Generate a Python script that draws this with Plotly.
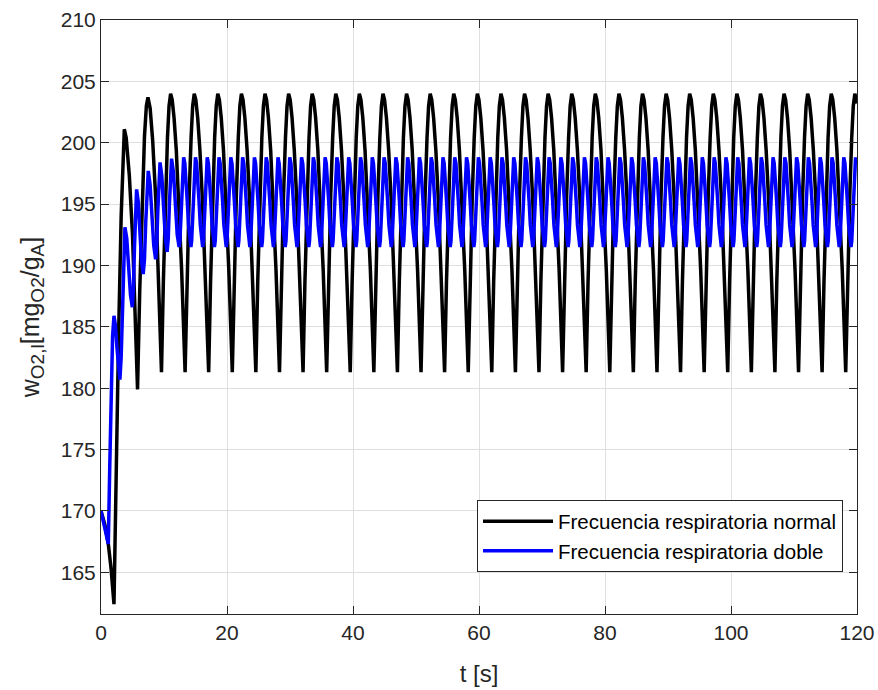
import plotly.graph_objects as go

# ---------------- data ----------------
# Normal breathing frequency (black): start-up transient
normal_start_t = [0.0, 0.6, 1.16, 1.6, 2.06, 2.4, 2.8, 3.2, 3.45, 3.7,
                  4.0, 4.5, 5.0, 5.4, 5.8, 6.15, 6.55, 6.9, 7.2, 7.45,
                  7.8, 8.2, 8.7, 9.15]
normal_start_w = [170.0, 168.9, 167.3, 165.3, 162.4, 173.5, 184.5, 194.0, 198.5, 201.1,
                  200.4, 197.3, 192.5, 187.0, 179.9, 188.0, 195.5, 200.5, 203.0, 203.7,
                  202.8, 200.2, 195.3, 189.0]
# Normal: times of the minima in the periodic regime
normal_troughs = [9.60, 13.35, 17.09, 20.84, 24.58, 28.33, 32.07, 35.82, 39.56, 43.31,
                  47.05, 50.80, 54.54, 58.29, 62.03, 65.78, 69.52, 73.27, 77.01, 80.76,
                  84.50, 88.25, 91.99, 95.74, 99.48, 103.23, 106.97, 110.72, 114.46, 118.21]
# Normal: shape of one breathing cycle (time after minimum, value)
normal_cycle_dt = [0.0, 0.3, 0.65, 0.95, 1.2, 1.45, 1.7, 2.0, 2.35, 2.75, 3.2]
normal_cycle_w = [181.3, 188.7, 195.8, 200.4, 203.0, 204.0, 203.5, 202.0, 199.4, 195.3, 189.6]
normal_end = (120.0, 203.2)

# Double breathing frequency (blue): start-up transient
double_start_t = [0.0, 0.6, 1.16, 1.385, 1.61, 1.835, 2.06, 2.295, 2.53, 2.765, 3.0,
                  3.2, 3.4, 3.6, 3.8, 4.09, 4.385, 4.68, 4.97, 5.14, 5.31, 5.48, 5.65,
                  5.91, 6.175, 6.44, 6.7, 6.9, 7.1, 7.3, 7.5, 7.79, 8.085, 8.38, 8.67,
                  8.845, 9.02, 9.195, 9.37, 9.65, 9.935, 10.22, 10.5, 10.675, 10.85,
                  11.025, 11.2, 11.5, 11.8, 12.1]
double_start_w = [170.0, 168.6, 167.3, 173.5, 179.5, 184.2, 185.9, 185.1, 183.3, 181.5, 180.7,
                  182.5, 186.9, 191.3, 193.1, 192.2, 189.9, 187.6, 186.6, 188.0, 191.4, 194.8, 196.2,
                  195.2, 192.8, 190.3, 189.3, 190.5, 193.5, 196.5, 197.7, 196.6, 194.1, 191.6, 190.5,
                  191.7, 194.5, 197.3, 198.4, 197.3, 194.8, 192.2, 191.1, 192.2, 194.9,
                  197.6, 198.7, 197.6, 195.1, 192.5]
# Double: times of the minima in the periodic regime
double_troughs = [12.40, 14.27, 16.14, 18.01, 19.88, 21.76, 23.63, 25.50, 27.37, 29.24,
                  31.11, 32.98, 34.85, 36.72, 38.59, 40.47, 42.34, 44.21, 46.08, 47.95,
                  49.82, 51.69, 53.56, 55.43, 57.30, 59.18, 61.05, 62.92, 64.79, 66.66,
                  68.53, 70.40, 72.27, 74.14, 76.01, 77.89, 79.76, 81.63, 83.50, 85.37,
                  87.24, 89.11, 90.98, 92.85, 94.72, 96.60, 98.47, 100.34, 102.21, 104.08,
                  105.95, 107.82, 109.69, 111.56, 113.43, 115.31, 117.18, 119.05]
double_cycle_dt = [0.0, 0.12, 0.24, 0.36, 0.48, 0.60, 0.72, 0.91, 1.10, 1.30, 1.49, 1.68]
double_cycle_w = [191.5, 192.0, 193.3, 195.15, 197.0, 198.3, 198.8, 198.3, 197.0, 195.15, 193.3, 192.0]
double_end = (120.0, 198.2)

x_ticks = [0, 20, 40, 60, 80, 100, 120]
y_ticks = [165, 170, 175, 180, 185, 190, 195, 200, 205, 210]


def build(start_t, start_w, troughs, cyc_dt, cyc_w, end):
    t = list(start_t)
    w = list(start_w)
    for T in troughs:
        for o, v in zip(cyc_dt, cyc_w):
            if T + o <= end[0]:
                t.append(round(T + o, 3))
                w.append(v)
    t.append(end[0])
    w.append(end[1])
    return t, w


tn, wn = build(normal_start_t, normal_start_w, normal_troughs, normal_cycle_dt, normal_cycle_w, normal_end)
td, wd = build(double_start_t, double_start_w, double_troughs, double_cycle_dt, double_cycle_w, double_end)

AX = '#262626'
GRID = '#dfdfdf'
FONT = 'Liberation Sans, Arial, sans-serif'

fig = go.Figure()
fig.add_trace(go.Scatter(x=tn, y=wn, mode='lines', name='Frecuencia respiratoria normal',
                         line=dict(color='#000000', width=3.5)))
fig.add_trace(go.Scatter(x=td, y=wd, mode='lines', name='Frecuencia respiratoria doble',
                         line=dict(color='#0000ff', width=3.5)))

axis_common = dict(showgrid=True, gridcolor=GRID, gridwidth=1, zeroline=False,
                   showline=True, linecolor=AX, linewidth=1, mirror='ticks',
                   ticks='inside', ticklen=8, tickcolor=AX, tickwidth=1,
                   automargin=False,
                   tickfont=dict(family=FONT, size=21, color=AX))

sub = '<sub><span style="font-size:19px">{}</span></sub>'
y_title = 'w' + sub.format('O2,l') + '[mg' + sub.format('O2') + '/g' + sub.format('A') + ']'

fig.update_layout(
    width=878, height=690,
    margin=dict(l=101, r=21, t=20, b=76),
    paper_bgcolor='white', plot_bgcolor='white',
    font=dict(family=FONT, color=AX),
    xaxis=dict(range=[0, 120], tickvals=x_ticks,
               title=dict(text='t [s]', font=dict(family=FONT, size=24, color=AX), standoff=21),
               **axis_common),
    yaxis=dict(range=[161.6, 210], tickvals=y_ticks,
               title=dict(text=y_title,
                          font=dict(family=FONT, size=25, color=AX), standoff=14),
               **axis_common),
    legend=dict(x=0.9815, y=0.0702, xanchor='right', yanchor='bottom',
                bgcolor='white', bordercolor=AX, borderwidth=1,
                font=dict(family=FONT, size=20.5, color='#000000'),
                itemwidth=70, tracegroupgap=0),
    showlegend=True,
)

fig.write_html('out.html')
